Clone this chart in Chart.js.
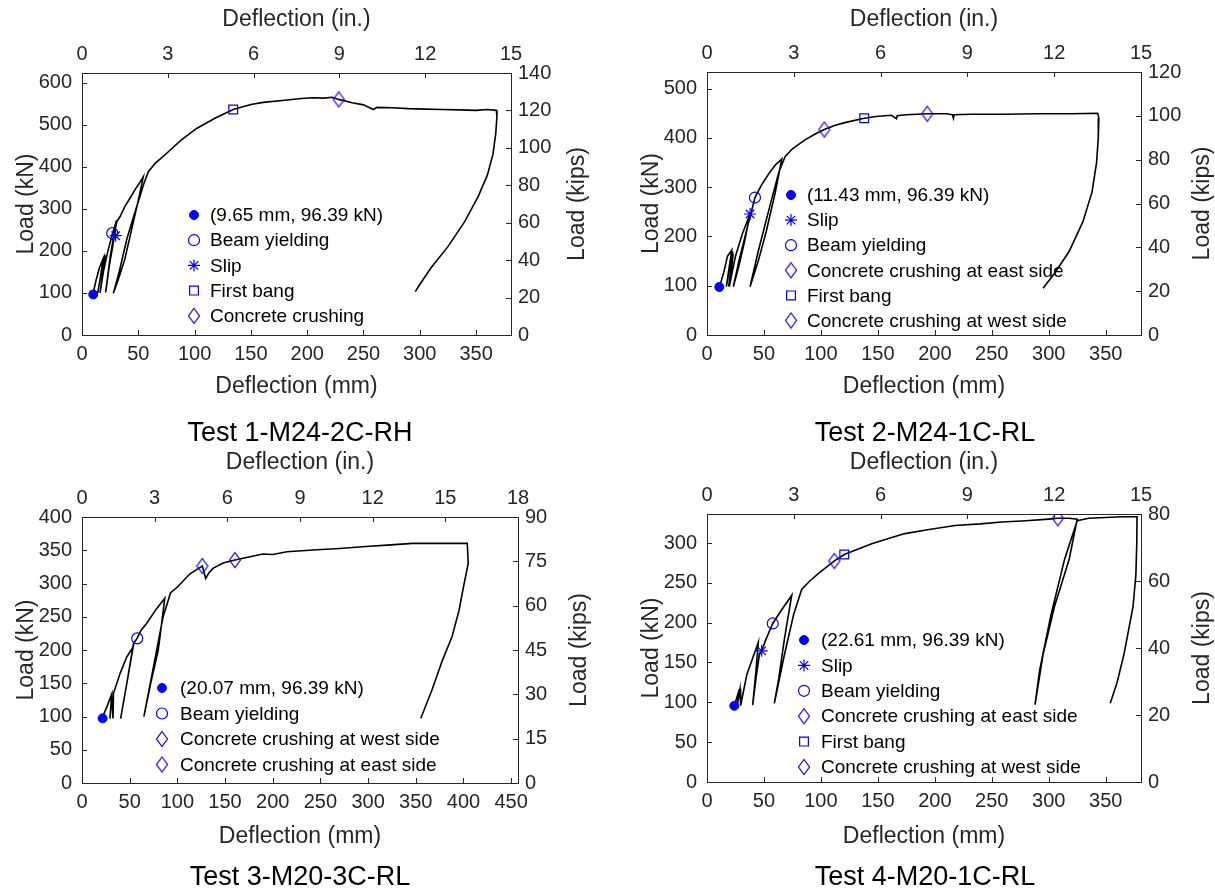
<!DOCTYPE html>
<html><head><meta charset="utf-8">
<script src="https://cdn.jsdelivr.net/npm/chart.js@4.4.1/dist/chart.umd.min.js"></script>
<style>
body{margin:0;background:#fff;width:1215px;height:890px;overflow:hidden;position:relative;font-family:'Liberation Sans',Arial,sans-serif}
canvas{position:absolute}
.cap{position:absolute;font-size:27px;color:#000;text-align:center;width:400px;line-height:30px}
</style></head><body>
<canvas id="c1" width="607" height="400" style="left:0;top:0"></canvas>
<canvas id="c2" width="608" height="400" style="left:607px;top:0"></canvas>
<canvas id="c3" width="607" height="445" style="left:0;top:445px"></canvas>
<canvas id="c4" width="608" height="445" style="left:607px;top:445px"></canvas>
<div class="cap" style="left:100px;top:417px">Test 1-M24-2C-RH</div>
<div class="cap" style="left:725px;top:417px">Test 2-M24-1C-RL</div>
<div class="cap" style="left:100px;top:861px">Test 3-M20-3C-RL</div>
<div class="cap" style="left:725px;top:861px">Test 4-M20-1C-RL</div>
<script>
// ---------------- DATA ----------------
const mmTicks = [0,50,100,150,200,250,300,350];
const mmTicks3 = [0,50,100,150,200,250,300,350,400,450];
const inTicks = [0,3,6,9,12,15];
const inTicks3 = [0,3,6,9,12,15,18];
const kNTicks1 = [0,100,200,300,400,500,600];
const kipTicks1 = [0,20,40,60,80,100,120,140];
const kNTicks2 = [0,100,200,300,400,500];
const kipTicks2 = [0,20,40,60,80,100,120];
const kNTicks3 = [0,50,100,150,200,250,300,350,400];
const kipTicks3 = [0,15,30,45,60,75,90];
const kNTicks4 = [0,50,100,150,200,250,300];
const kipTicks4 = [0,20,40,60,80];

// Test 1
const t1Defl = [9.65,12.5,15.5,18.9,16.5,14.0,16.5,19.5,20.5,18.5,16.0,19.0,23.0,27.0,30.8,27.5,24.0,21.0,25.0,28.5,31.0,33.7,38,42.6,47,50,54.4,50,44,38,32,27.8,33,40,48,55,58.9,65,75.2,88,101.8,118,134.3,150,161,180,195,205,215,222,228,240,250,258.7,262,275,290,305,320,335,350,360,368,368.5,367.5,365,360,352,340,325,310,300,296];
const t1Load = [96.4,130,160,182,140,100,140,175,190,150,100,150,200,240,273,215,160,101,185,240,270,281,305,325,345,357,376,320,250,180,130,99,150,230,300,360,388,408,432,463,491,515,536,548,553,558,562,564,563,565,560,552,547,536,541,540,538,537,536,535,534,536,534,520,480,430,380,330,270,210,160,120,103];
const t1EvLabels = ['(9.65 mm, 96.39 kN)','Beam yielding','Slip','First bang','Concrete crushing'];
const t1EvDefl = [10.0,26.9,29.9,134.3,228];
const t1EvLoad = [96.4,242,236,536,560];

// Test 2
const t2Defl = [11.0,15,18,21.7,19,17,19.5,21,22.5,20.5,19,21.5,23,21,19.5,25,31,37.8,33,28,23.1,28,35,39,42.1,48,55,60,65.6,60,52,45,37.8,45,55,63,68.5,75,86,95,103,112,121,138,150,162,166.3,167,175,193.4,210,215.5,216.3,217,232,248,262,290,320,343,344,343.5,342,338,330,318,305,295];
const t2Load = [97.4,130,160,172,130,98,130,155,170,120,98,140,165,125,98,160,205,245.6,190,140,98,150,215,250,279,305,330,345,357,290,210,150,98,170,260,330,362,378,396,408,417,425,431,440,444,446,439,445,447,449,449,447,440,447,448,448,448,449,449,450,440,400,350,290,230,170,125,95];
const t2EvLabels = ['(11.43 mm, 96.39 kN)','Slip','Beam yielding','Concrete crushing at east side','First bang','Concrete crushing at west side'];
const t2EvDefl = [10.8,37.8,42.1,103,138,193.4];
const t2EvLoad = [97.4,245.6,279,417,440,449];

// Test 3
const t3Defl = [21,27,31.1,29.3,31.5,32.5,33,40,47,53.7,47,40.5,47,54,57.9,62,67.7,78,86.8,80,72,64.9,75,85,92.8,100,113,121,126.2,129.7,133,137.3,148,160.4,175,189.7,200,215,242,270,294,320,346.6,404,405,400,395.4,388,378,367,355.3];
const t3Load = [97,118,133.5,97,130,97,135,165,190,205,150,97,150,210,218,230,240,262,278,200,150,99.8,175,250,286,295,314.5,322,326.6,308,316,323,331,335.6,340,344.6,344,348,350.6,353,355.6,358,360.7,360.7,330.6,295,260,220,185,140,97.4];
const t3EvLabels = ['(20.07 mm, 96.39 kN)','Beam yielding','Concrete crushing at west side','Concrete crushing at east side'];
const t3EvDefl = [21.6,57.9,126.2,160.4];
const t3EvLoad = [97.3,217.7,326.6,335.6];

// Test 4
const t4Defl = [24,28.4,26.5,29,29.5,35,40,45,43,40.1,43,46,48,52,57.7,65,74.4,68,63,59.1,68,76,83.1,90,97.7,111.8,120.5,130,144.6,160,173.8,195,217.7,240,258.7,280,300,308,318,325,318,305,295,288,292,302,314,325,335,350,365,377.5,377.3,376.5,374,370,366,360,354];
const t4Load = [95.7,116.6,96,117,96,135,155,175,140,96.5,130,160,164.6,180,199,215,234.5,180,130,98.7,160,210,241.6,252,261.6,277.5,285.5,291,299,306,311.8,317,322,324,326.4,328,330,331,331,330,280,220,160,97,140,210,280,328,331,332,333,333,300,260,220,190,160,125,99];
const t4EvLabels = ['(22.61 mm, 96.39 kN)','Slip','Beam yielding','Concrete crushing at east side','First bang','Concrete crushing at west side'];
const t4EvDefl = [24,48,57.7,111.8,120.5,308];
const t4EvLoad = [95.7,164.6,199,277.5,285.5,331];

// ---------------- STYLE ----------------
const FONT = "'Liberation Sans', Arial, sans-serif";
const AX = '#262626';
const BLUE = '#0000ff';
const TICK_PX = 20, TITLE_PX = 23;
Chart.defaults.font.family = FONT;

function diamondCanvas(){
  const c = document.createElement('canvas'); c.width = 14; c.height = 18;
  const g = c.getContext('2d'); g.strokeStyle = BLUE; g.lineWidth = 1.2;
  g.beginPath(); g.moveTo(7,1.5); g.lineTo(12.5,9); g.lineTo(7,16.5); g.lineTo(1.5,9); g.closePath(); g.stroke();
  return c;
}
const DIA = diamondCanvas();
const markerStyle = {
  dot:     {pointStyle:'circle', radius:4.5, fill:BLUE, bw:1},
  circle:  {pointStyle:'circle', radius:5.5, fill:'rgba(0,0,0,0)', bw:1.2},
  star:    {pointStyle:'star', radius:6, fill:'rgba(0,0,0,0)', bw:1.2},
  square:  {pointStyle:'rect', radius:6.2, fill:'rgba(0,0,0,0)', bw:1.2},
  diamond: {pointStyle:DIA, radius:7, fill:'rgba(0,0,0,0)', bw:1.2}
};

function makeDatasets(defl, load, evLabels, evDefl, evLoad, evKinds){
  const ds = [{
    label:'curve', data: defl.map((d,i)=>({x:d, y:load[i]})),
    showLine:true, borderColor:'#000', borderWidth:1.6, pointRadius:0, fill:false,
    tension:0, xAxisID:'x', yAxisID:'y', order:2
  }];
  evLabels.forEach((lab,i)=>{
    const m = markerStyle[evKinds[i]];
    ds.push({label:lab, data:[{x:evDefl[i], y:evLoad[i]}], showLine:false,
      pointStyle:m.pointStyle, pointRadius:m.radius, pointBackgroundColor:m.fill,
      pointBorderColor:BLUE, pointBorderWidth:m.bw, xAxisID:'x', yAxisID:'y', order:1, _kind:evKinds[i]});
  });
  return ds;
}

const inwardTicks = {
  id:'inwardTicks',
  afterDatasetsDraw(chart){
    const ctx = chart.ctx, a = chart.chartArea, L = 5;
    ctx.save(); ctx.strokeStyle = AX; ctx.lineWidth = 1;
    ['x','x2','y','y2'].forEach(id=>{
      const s = chart.scales[id];
      s.ticks.forEach(t=>{
        const p = Math.round(s.getPixelForValue(t.value)) + 0.5;
        ctx.beginPath();
        if (id==='x'){ ctx.moveTo(p,a.bottom); ctx.lineTo(p,a.bottom-L); }
        else if (id==='x2'){ ctx.moveTo(p,a.top); ctx.lineTo(p,a.top+L); }
        else if (id==='y'){ ctx.moveTo(a.left,p); ctx.lineTo(a.left+L,p); }
        else { ctx.moveTo(a.right,p); ctx.lineTo(a.right-L,p); }
        ctx.stroke();
      });
    });
    ctx.restore();
  }
};

// right-hand axis title, read bottom-to-top like the left one
const rightTitle = {
  id:'rightTitle',
  afterDraw(chart, args, opts){
    const ctx = chart.ctx, a = chart.chartArea;
    ctx.save();
    ctx.translate(opts.x, (a.top + a.bottom)/2);
    ctx.rotate(-Math.PI/2);
    ctx.font = TITLE_PX + 'px ' + FONT; ctx.fillStyle = AX;
    ctx.textAlign = 'center'; ctx.textBaseline = 'middle';
    ctx.fillText(opts.text, 0, 0);
    ctx.restore();
  }
};

const inLegend = {
  id:'inLegend',
  afterDatasetsDraw(chart, args, opts){
    const ctx = chart.ctx;
    ctx.save();
    ctx.font = '19px ' + FONT; ctx.textBaseline = 'middle'; ctx.textAlign = 'left';
    let row = 0;
    chart.data.datasets.forEach(ds=>{
      if (ds.label === 'curve') return;
      const y = opts.y + row*opts.dy;
      const m = markerStyle[ds._kind];
      ctx.fillStyle = m.fill; ctx.strokeStyle = BLUE; ctx.lineWidth = m.bw;
      Chart.helpers.drawPoint(ctx, {pointStyle:m.pointStyle, radius:m.radius, rotation:0, borderWidth:m.bw}, opts.mx, y);
      ctx.fillStyle = '#000';
      ctx.fillText(ds.label, opts.tx, y+1);
      row++;
    });
    ctx.restore();
  }
};

function fixed(size){
  return s => {
    if (s.isHorizontal()) s.height = size; else s.width = size;
    s.paddingLeft = 0; s.paddingRight = 0; s.paddingTop = 0; s.paddingBottom = 0;
  };
}
function setTicks(arr){ return s => { s.ticks = arr.map(v=>({value:v})); }; }

function axis(pos, min, max, ticksArr, title, size, tpad, lpad){
  return {
    type:'linear', position:pos, min:min, max:max,
    afterBuildTicks: setTicks(ticksArr), afterFit: fixed(size),
    grid:{display:false, drawTicks:false},
    border:{display:true, color:AX, width:1},
    ticks:{color:AX, font:{size:TICK_PX}, padding:lpad, autoSkip:false, maxRotation:0, minRotation:0},
    title:{display: title !== null, text:title || '', color:AX, font:{size:TITLE_PX}, padding:{top:tpad, bottom:tpad}}
  };
}

function build(id, cfg){
  const a = cfg.area, W = cfg.w, H = cfg.h;
  new Chart(document.getElementById(id), {
    type:'scatter',
    data:{datasets: cfg.datasets},
    options:{
      responsive:false, animation:false, events:[],
      layout:{padding:0},
      plugins:{legend:{display:false}, tooltip:{enabled:false}, title:{display:false},
        inLegend: cfg.legend, rightTitle:{x:cfg.rx, text:'Load (kips)'}},
      scales:{
        x:  axis('bottom', 0, cfg.xmax, cfg.xt, 'Deflection (mm)', H - a.b, cfg.tp.b, 7),
        x2: axis('top', 0, cfg.x2max, cfg.x2t, 'Deflection (in.)', a.t, cfg.tp.t, 7),
        y:  axis('left', 0, cfg.ymax, cfg.yt, 'Load (kN)', a.l, cfg.tp.l, 10),
        y2: axis('right', 0, cfg.y2max, cfg.y2t, null, W - a.r, 0, 7)
      }
    },
    plugins:[inwardTicks, inLegend, rightTitle]
  });
}

build('c1', {w:607, h:400, area:{l:82,t:73,r:511,b:335}, xmax:381, xt:mmTicks, x2max:15, x2t:inTicks,
  ymax:622.75, yt:kNTicks1, y2max:140, y2t:kipTicks1, tp:{l:13,b:0,t:6}, rx:578,
  datasets: makeDatasets(t1Defl,t1Load,t1EvLabels,t1EvDefl,t1EvLoad,['dot','circle','star','square','diamond']),
  legend:{mx:194, tx:210, y:215, dy:25.2}});
build('c2', {w:608, h:400, area:{l:100,t:72,r:534,b:335}, xmax:381, xt:mmTicks, x2max:15, x2t:inTicks,
  ymax:533.79, yt:kNTicks2, y2max:120, y2t:kipTicks2, tp:{l:31,b:0,t:6}, rx:596,
  datasets: makeDatasets(t2Defl,t2Load,t2EvLabels,t2EvDefl,t2EvLoad,['dot','star','circle','diamond','square','diamond']),
  legend:{mx:184, tx:200, y:195, dy:25.1}});
build('c3', {w:607, h:445, area:{l:82,t:72,r:518,b:338}, xmax:457.2, xt:mmTicks3, x2max:18, x2t:inTicks3,
  ymax:400.34, yt:kNTicks3, y2max:90, y2t:kipTicks3, tp:{l:13,b:40,t:4}, rx:580,
  datasets: makeDatasets(t3Defl,t3Load,t3EvLabels,t3EvDefl,t3EvLoad,['dot','circle','diamond','diamond']),
  legend:{mx:162, tx:180, y:243, dy:25.5}});
build('c4', {w:608, h:445, area:{l:100,t:69,r:534,b:337}, xmax:381, xt:mmTicks, x2max:15, x2t:inTicks,
  ymax:336.4, yt:kNTicks4, y2max:80, y2t:kipTicks4, tp:{l:31,b:40,t:4}, rx:596,
  datasets: makeDatasets(t4Defl,t4Load,t4EvLabels,t4EvDefl,t4EvLoad,['dot','star','circle','diamond','square','diamond']),
  legend:{mx:197, tx:214, y:195, dy:25.4}});
</script>
</body></html>
